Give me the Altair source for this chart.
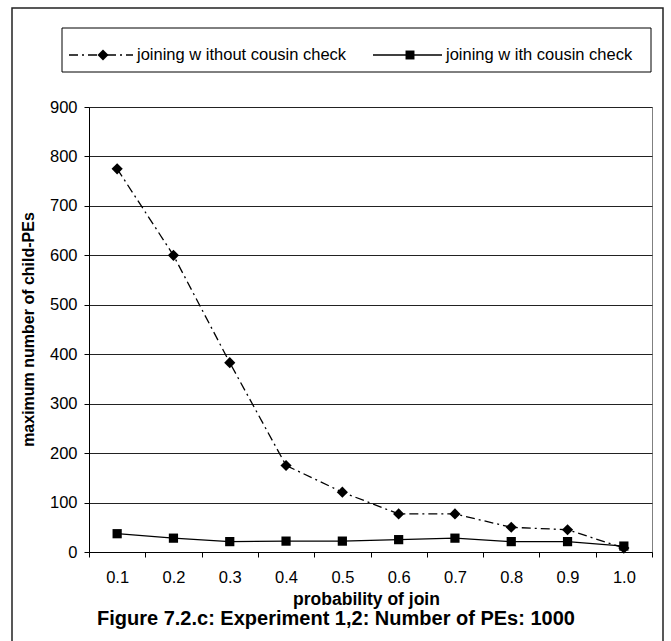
import altair as alt
import pandas as pd

# ---- data ----
probs = ["0.1", "0.2", "0.3", "0.4", "0.5", "0.6", "0.7", "0.8", "0.9", "1.0"]
without_cousin = [775, 600, 383, 175, 121, 77, 77, 50, 45, 8]
with_cousin = [37, 28, 21, 22, 22, 25, 28, 21, 21, 12]
series_names = ["joining w ithout cousin check", "joining w ith cousin check"]
y_ticks = [0, 100, 200, 300, 400, 500, 600, 700, 800, 900]
x_title = "probability of join"
y_title = "maximum number of child-PEs"
caption = "Figure 7.2.c: Experiment 1,2: Number of PEs: 1000"

rows = []
for p, v in zip(probs, without_cousin):
    rows.append({"prob": p, "value": v, "series": series_names[0]})
for p, v in zip(probs, with_cousin):
    rows.append({"prob": p, "value": v, "series": series_names[1]})
df = pd.DataFrame(rows)
one = pd.DataFrame({"k": [0]})

FONT = "Liberation Sans"
W, H = 563, 445
DASH = [9, 4, 2, 4]

x_enc = alt.X(
    "prob:N",
    sort=probs,
    scale=alt.Scale(type="band", domain=probs, paddingInner=0, paddingOuter=0),
    axis=alt.Axis(
        title=x_title, labelAngle=0, grid=False, tickBand="extent",
        tickSize=5, tickColor="black", domainColor="black",
        labelFontSize=16.5, labelPadding=12, labelColor="black", labelFont=FONT,
        titleFontSize=17.5, titleFontWeight="bold", titleFont=FONT, titleColor="black",
        titleX=277, titleY=52, titleAlign="center", titleBaseline="alphabetic",
    ),
)
y_enc = alt.Y(
    "value:Q",
    scale=alt.Scale(domain=[0, 900], nice=False, zero=True),
    axis=alt.Axis(
        title=y_title, values=y_ticks, grid=True, gridColor="#222222", gridWidth=1,
        tickSize=5, tickColor="black", domainColor="black",
        labelFontSize=16.5, labelPadding=7, labelColor="black", labelFont=FONT,
        titleFontSize=16, titleFontWeight="bold", titleFont=FONT, titleColor="black",
        titleX=-61, titleY=222, titleAngle=270, titleAlign="center", titleBaseline="middle",
    ),
)

base = alt.Chart(df)

frame = alt.Chart(one).mark_rect(fillOpacity=0, stroke="#222222", strokeWidth=1.5).encode(
    x=alt.value(-77), x2=alt.value(574), y=alt.value(-99), y2=alt.value(545)
)
legend_box = alt.Chart(one).mark_rect(fill="white", stroke="black", strokeWidth=1).encode(
    x=alt.value(-27), x2=alt.value(562), y=alt.value(-79), y2=alt.value(-35)
)

line_wo = base.transform_filter(alt.datum.series == series_names[0]).mark_line(
    color="black", strokeWidth=1.3, strokeDash=DASH
).encode(x=x_enc, y=y_enc)
line_w = base.transform_filter(alt.datum.series == series_names[1]).mark_line(
    color="black", strokeWidth=1.3
).encode(x=x_enc, y=y_enc)
pts_wo = base.transform_filter(alt.datum.series == series_names[0]).mark_point(
    shape="diamond", filled=True, color="black", size=125, opacity=1
).encode(x=x_enc, y=y_enc)
pts_w = base.transform_filter(alt.datum.series == series_names[1]).mark_point(
    shape="square", filled=True, color="black", size=85, opacity=1
).encode(x=x_enc, y=y_enc)

LY = -52
leg_line1 = alt.Chart(one).mark_rule(color="black", strokeWidth=1.3, strokeDash=DASH).encode(
    x=alt.value(-20), x2=alt.value(44), y=alt.value(LY)
)
leg_pt1 = alt.Chart(one).mark_point(shape="diamond", filled=True, color="black", size=120, opacity=1).encode(
    x=alt.value(14), y=alt.value(LY)
)
leg_txt1 = alt.Chart(one).mark_text(
    text=series_names[0], align="left", baseline="middle", fontSize=16.5, font=FONT, color="black"
).encode(x=alt.value(48), y=alt.value(LY))
leg_line2 = alt.Chart(one).mark_rule(color="black", strokeWidth=1.3).encode(
    x=alt.value(284), x2=alt.value(353), y=alt.value(LY)
)
leg_pt2 = alt.Chart(one).mark_point(shape="square", filled=True, color="black", size=80, opacity=1).encode(
    x=alt.value(321), y=alt.value(LY)
)
leg_txt2 = alt.Chart(one).mark_text(
    text=series_names[1], align="left", baseline="middle", fontSize=16.5, font=FONT, color="black"
).encode(x=alt.value(357), y=alt.value(LY))

cap = alt.Chart(one).mark_text(
    text=caption, align="left", baseline="alphabetic", fontSize=20, fontWeight="bold", font=FONT, color="black"
).encode(x=alt.value(8), y=alt.value(518))

chart = alt.layer(
    frame, legend_box,
    line_wo, line_w, pts_wo, pts_w,
    leg_line1, leg_pt1, leg_txt1, leg_line2, leg_pt2, leg_txt2,
    cap,
).properties(
    width=W, height=H,
    autosize=alt.AutoSizeParams(type="none"),
    padding={"left": 89, "top": 107, "right": 19, "bottom": 89},
).configure(font=FONT).configure_view(stroke="#808080", strokeWidth=1)

chart.save("out.html", embed_options={"renderer": "svg", "actions": False})
